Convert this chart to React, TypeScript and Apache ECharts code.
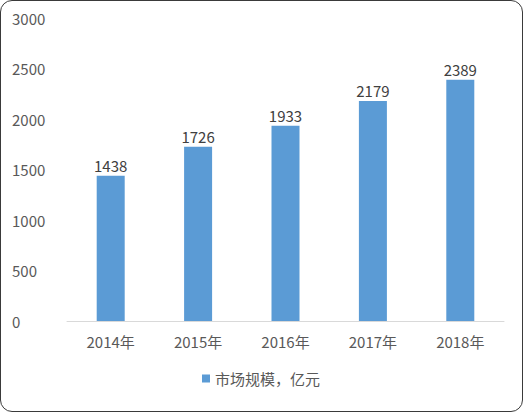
import { useRef, useEffect } from 'react'
import * as echarts from 'echarts'

const years = ['2014年', '2015年', '2016年', '2017年', '2018年']
const marketSize = [1438, 1726, 1933, 2179, 2389]
const seriesName = '市场规模，亿元'

const FONT = '"Noto Sans CJK SC", "Open Sans", sans-serif'

export default function App() {
  const chartRef = useRef<HTMLDivElement>(null)

  useEffect(() => {
    document.body.style.margin = '0'
    if (!chartRef.current) return
    const instance = echarts.init(chartRef.current, undefined, { renderer: 'svg' })
    instance.setOption({
      animation: false,
      textStyle: { fontFamily: FONT },
      grid: { left: 66, right: 17, top: 17, bottom: 89 },
      legend: {
        bottom: 19,
        left: 'center',
        itemWidth: 8,
        itemHeight: 8,
        itemGap: 4,
        icon: 'rect',
        textStyle: { fontSize: 15, color: '#595959', fontFamily: FONT },
        data: [seriesName],
      },
      xAxis: {
        type: 'category',
        data: years,
        axisLine: { lineStyle: { color: '#d9d9d9', width: 1 } },
        axisTick: { show: false },
        axisLabel: { color: '#595959', fontSize: 15, margin: 13, fontFamily: FONT },
      },
      yAxis: {
        type: 'value',
        min: 0,
        max: 3000,
        interval: 500,
        splitLine: { show: false },
        axisLine: { show: false },
        axisTick: { show: false },
        axisLabel: {
          color: '#595959',
          fontSize: 15,
          align: 'left',
          margin: 55,
          fontFamily: FONT,
          formatter: (v: number) => String(v),
        },
      },
      series: [
        {
          name: seriesName,
          type: 'bar',
          data: marketSize,
          barWidth: 28,
          itemStyle: { color: '#5b9bd5' },
          label: {
            show: true,
            position: 'top',
            distance: 3,
            color: '#404040',
            fontSize: 15,
            fontFamily: FONT,
          },
        },
      ],
    })
    return () => instance.dispose()
  }, [])

  return (
    <div
      style={{
        width: 523,
        height: 412,
        boxSizing: 'border-box',
        border: '1.5px solid #3a3a3a',
        borderRadius: 12,
        background: '#fff',
        overflow: 'hidden',
      }}
    >
      <div ref={chartRef} style={{ width: 520, height: 409 }} />
    </div>
  )
}
